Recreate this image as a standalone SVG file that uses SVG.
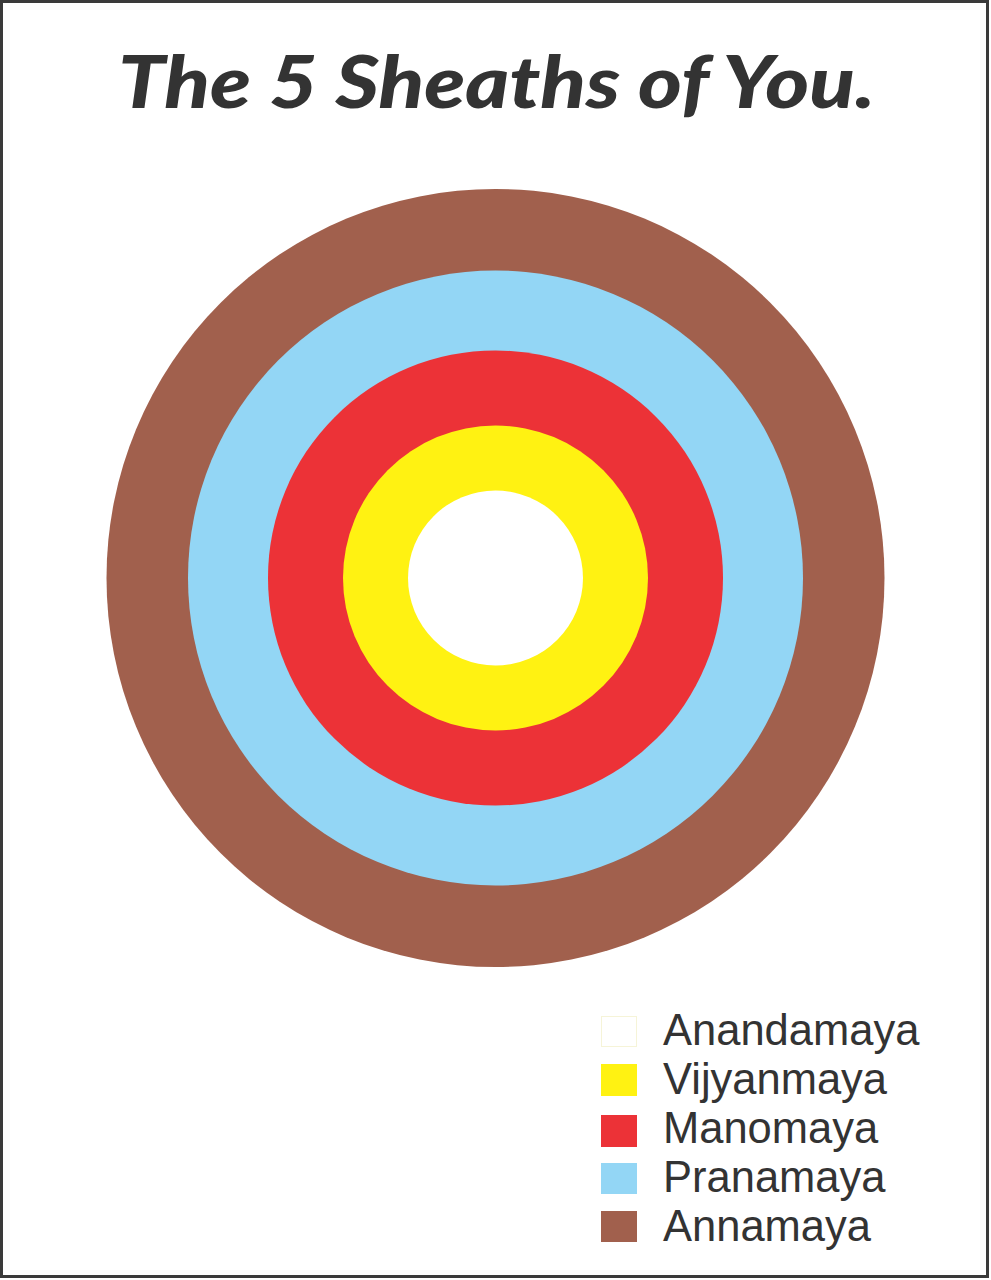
<svg xmlns="http://www.w3.org/2000/svg" width="991" height="1280" viewBox="0 0 991 1280">
<style>
.title{font-family:Lato,"Liberation Sans",Arial,sans-serif;font-weight:900;font-style:italic;font-size:72px;fill:#333333}
.lab{font-family:"Liberation Sans",Arial,sans-serif;font-size:43.5px;fill:#333333}
</style>
<rect x="0" y="0" width="991" height="1280" fill="#ffffff"/>
<rect x="1.5" y="1.5" width="986" height="1275" fill="none" stroke="#3a3a3a" stroke-width="3"/>
<text class="title" x="118" y="108" textLength="757" lengthAdjust="spacingAndGlyphs">The 5 Sheaths of You.</text>
<g id="rings">
<circle id="annamaya" cx="495.5" cy="578" r="389" fill="#A1604D"/>
<circle id="pranamaya" cx="495.5" cy="578" r="307.5" fill="#93D6F5"/>
<circle id="manomaya" cx="495.5" cy="578" r="227.5" fill="#EC3237"/>
<circle id="vijyanmaya" cx="495.5" cy="578" r="152.5" fill="#FFF212"/>
<circle id="anandamaya" cx="495.5" cy="578" r="87.5" fill="#FFFFFF"/>
</g>
<g id="legend">
<g id="leg-anandamaya"><rect x="601.5" y="1016.5" width="35" height="30" fill="#ffffff" stroke="#f6f4d8" stroke-width="1"/><text class="lab" x="663" y="1045">Anandamaya</text></g>
<g id="leg-vijyanmaya"><rect x="601" y="1064" width="36" height="32" fill="#FFF212"/><text class="lab" x="663" y="1094">Vijyanmaya</text></g>
<g id="leg-manomaya"><rect x="601" y="1115" width="36" height="32" fill="#EC3237"/><text class="lab" x="663" y="1143">Manomaya</text></g>
<g id="leg-pranamaya"><rect x="601" y="1163" width="36" height="31" fill="#93D6F5"/><text class="lab" x="663" y="1192">Pranamaya</text></g>
<g id="leg-annamaya"><rect x="601" y="1211" width="36" height="31" fill="#A1604D"/><text class="lab" x="663" y="1241">Annamaya</text></g>
</g>
</svg>
